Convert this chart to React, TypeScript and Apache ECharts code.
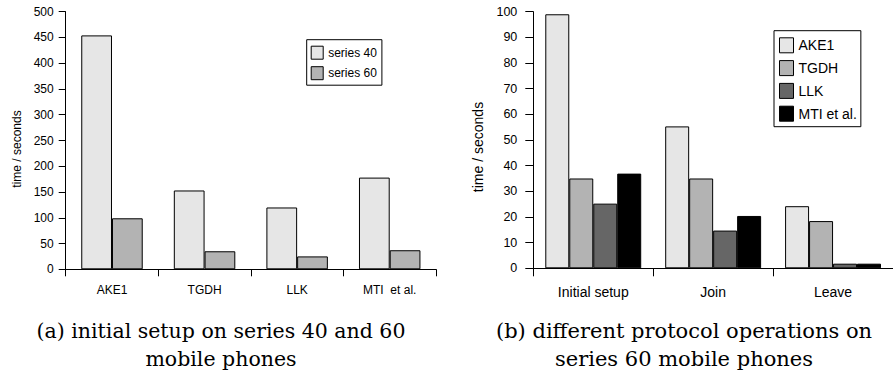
import React, { useEffect, useRef } from "react";
import * as echarts from "echarts";

// ---- data ----
const leftCategories = ["AKE1", "TGDH", "LLK", "MTI  et al."];
const leftSeriesNames = ["series 40", "series 60"];
const leftSeries40 = [454, 153, 120, 178];
const leftSeries60 = [99, 35, 25, 37];
const leftAxis = { min: 0, max: 500, interval: 50 };

const rightCategories = ["Initial setup", "Join", "Leave"];
const rightSeriesNames = ["AKE1", "TGDH", "LLK", "MTI et al."];
const rightAKE1 = [99, 55.3, 24.2];
const rightTGDH = [35, 35, 18.4];
const rightLLK = [25.2, 14.7, 1.8];
const rightMTI = [36.9, 20.4, 1.8];
const rightAxis = { min: 0, max: 100, interval: 10 };

const yAxisTitle = "time / seconds";
const captionA = ["(a) initial setup on series 40 and 60", "mobile phones"];
const captionB = ["(b) different protocol operations on", "series 60 mobile phones"];

const COLORS_LEFT = ["#e6e6e6", "#b3b3b3"];
const COLORS_RIGHT = ["#e6e6e6", "#b3b3b3", "#666666", "#000000"];

const SANS = "'Liberation Sans', Arial, Helvetica, sans-serif";
const SERIF = "'DejaVu Serif', serif";

export default function App() {
  const ref = useRef<HTMLDivElement>(null);

  useEffect(() => {
    if (!ref.current) return;
    const chart = echarts.init(ref.current, undefined, { renderer: "svg" });

    const axisLine = { show: true, lineStyle: { color: "#000", width: 1 } };

    const rightData = [rightAKE1, rightTGDH, rightLLK, rightMTI];

    const option: any = {
      animation: false,
      backgroundColor: "#fff",
      grid: [
        { left: 65.7, top: 11.7, width: 370.3, height: 257.6 },
        { left: 533.3, top: 11.7, width: 370.5, height: 256.6 },
      ],
      xAxis: [
        {
          type: "category",
          gridIndex: 0,
          data: leftCategories,
          axisLine,
          axisTick: { show: true, length: 7, lineStyle: { color: "#000" } },
          axisLabel: { color: "#000", fontFamily: SANS, fontSize: 12, margin: 15 },
          splitLine: { show: false },
        },
        {
          type: "category",
          gridIndex: 1,
          data: rightCategories,
          axisLine,
          axisTick: { show: true, length: 8, lineStyle: { color: "#000" } },
          axisLabel: { color: "#000", fontFamily: SANS, fontSize: 14, margin: 17 },
          splitLine: { show: false },
        },
      ],
      yAxis: [
        {
          type: "value",
          gridIndex: 0,
          min: leftAxis.min,
          max: leftAxis.max,
          interval: leftAxis.interval,
          axisLine,
          axisTick: { show: true, length: 7, lineStyle: { color: "#000" } },
          axisLabel: { color: "#000", fontFamily: SANS, fontSize: 12, margin: 12 },
          splitLine: { show: false },
        },
        {
          type: "value",
          gridIndex: 1,
          min: rightAxis.min,
          max: rightAxis.max,
          interval: rightAxis.interval,
          axisLine,
          axisTick: { show: true, length: 8, lineStyle: { color: "#000" } },
          axisLabel: { color: "#000", fontFamily: SANS, fontSize: 12.5, margin: 16 },
          splitLine: { show: false },
        },
      ],
      legend: [
        {
          orient: "vertical",
          left: 306.7,
          top: 39.7,
          padding: [6, 5, 5, 4],
          itemWidth: 12,
          itemHeight: 13,
          itemGap: 6.5,
          borderColor: "#000",
          borderWidth: 1,
          icon: "rect",
          itemStyle: { borderColor: "#000", borderWidth: 1 },
          textStyle: { color: "#000", fontFamily: SANS, fontSize: 12 },
          data: leftSeriesNames,
          selectedMode: false,
        },
        {
          orient: "vertical",
          left: 774,
          top: 30.7,
          padding: [6.6, 4, 5, 5],
          itemWidth: 14,
          itemHeight: 15,
          itemGap: 6.8,
          borderColor: "#000",
          borderWidth: 1,
          icon: "rect",
          itemStyle: { borderColor: "#000", borderWidth: 1 },
          textStyle: { color: "#000", fontFamily: SANS, fontSize: 14 },
          data: rightSeriesNames,
          selectedMode: false,
        },
      ],
      series: [
        {
          name: leftSeriesNames[0],
          type: "bar",
          xAxisIndex: 0,
          yAxisIndex: 0,
          data: leftSeries40,
          barGap: "0%",
          barCategoryGap: "33.6%",
          itemStyle: { color: COLORS_LEFT[0], borderColor: "#000", borderWidth: 1 },
        },
        {
          name: leftSeriesNames[1],
          type: "bar",
          xAxisIndex: 0,
          yAxisIndex: 0,
          data: leftSeries60,
          barGap: "0%",
          barCategoryGap: "33.6%",
          itemStyle: { color: COLORS_LEFT[1], borderColor: "#000", borderWidth: 1 },
        },
        ...rightSeriesNames.map((n, i) => ({
          name: n,
          type: "bar",
          xAxisIndex: 1,
          yAxisIndex: 1,
          data: rightData[i],
          barGap: "0%",
          barCategoryGap: "20%",
          itemStyle: { color: COLORS_RIGHT[i], borderColor: "#000", borderWidth: 1 },
        })),
      ],
      graphic: [
        {
          type: "text",
          x: 17,
          y: 149,
          rotation: Math.PI / 2,
          style: {
            text: yAxisTitle,
            fontFamily: SANS,
            fontSize: 12,
            fill: "#000",
            align: "center",
            verticalAlign: "middle",
          },
        },
        {
          type: "text",
          x: 478.3,
          y: 147,
          rotation: Math.PI / 2,
          style: {
            text: yAxisTitle,
            fontFamily: SANS,
            fontSize: 14,
            fill: "#000",
            align: "center",
            verticalAlign: "middle",
          },
        },
        ...captionA.map((t, i) => ({
          type: "text",
          x: 221,
          y: 331 + i * 28,
          style: {
            text: t,
            fontFamily: SERIF,
            fontSize: 20.5,
            fill: "#000",
            align: "center",
            verticalAlign: "middle",
          },
        })),
        ...captionB.map((t, i) => ({
          type: "text",
          x: 684,
          y: 331 + i * 28,
          style: {
            text: t,
            fontFamily: SERIF,
            fontSize: 21,
            fill: "#000",
            align: "center",
            verticalAlign: "middle",
          },
        })),
      ],
    };

    chart.setOption(option);
    return () => chart.dispose();
  }, []);

  return (
    <div
      ref={ref}
      style={{ position: "fixed", left: 0, top: 0, width: 893, height: 377, background: "#fff" }}
    />
  );
}
